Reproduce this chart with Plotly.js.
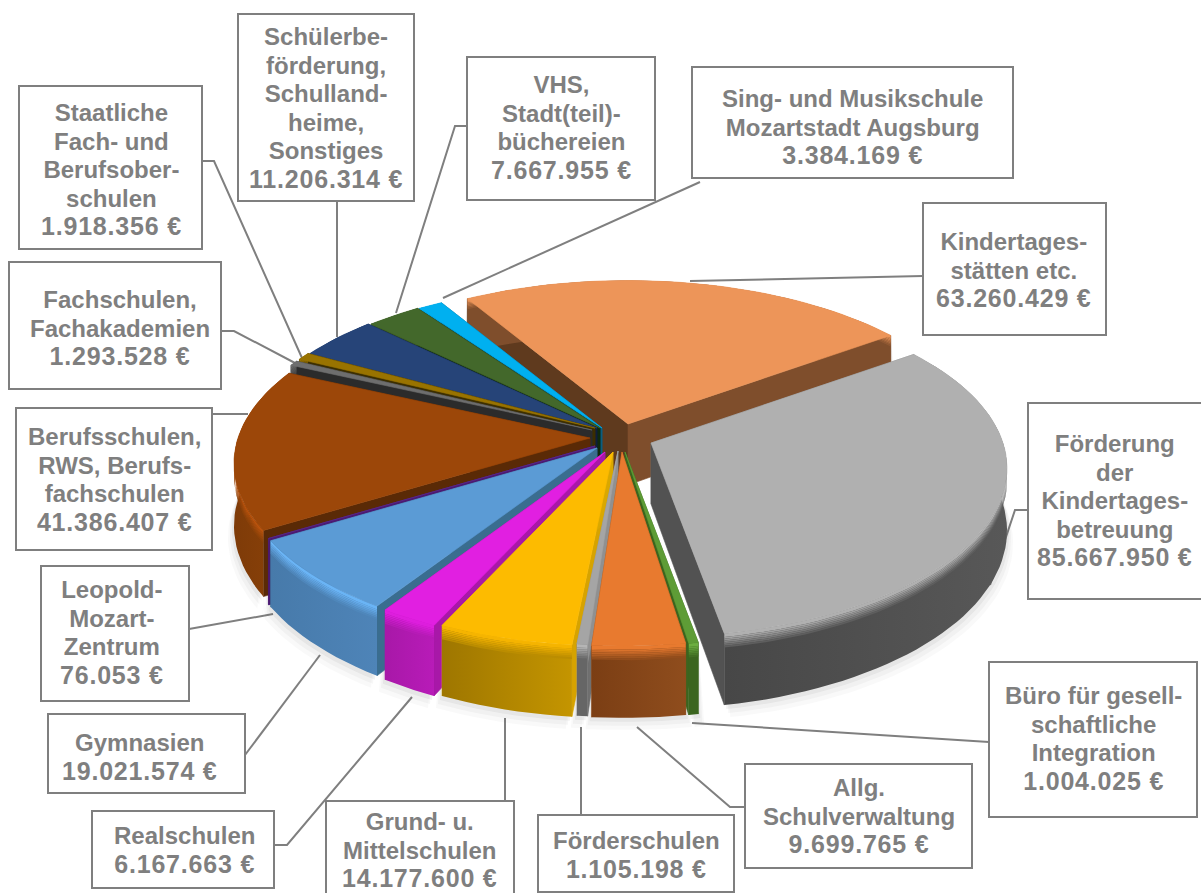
<!DOCTYPE html>
<html><head><meta charset="utf-8">
<script src="https://cdn.plot.ly/plotly-3.0.1.min.js"></script>
<style>html,body{margin:0;padding:0;background:#fff;overflow:hidden}</style>
</head><body><div id="chart" style="width:1201px;height:893px"></div>
<script>
// ---- data ----
const categories = [
  "Kindertages-<br>stätten etc.",
  "Förderung<br>der<br>Kindertages-<br>betreuung",
  "Büro für gesell-<br>schaftliche<br>Integration",
  "Allg.<br>Schulverwaltung",
  "Förderschulen",
  "Grund- u.<br>Mittelschulen",
  "Realschulen",
  "Gymnasien",
  "Leopold-<br>Mozart-<br>Zentrum",
  "Berufsschulen,<br>RWS, Berufs-<br>fachschulen",
  "Fachschulen,<br>Fachakademien",
  "Staatliche<br>Fach- und<br>Berufsober-<br>schulen",
  "Schülerbe-<br>förderung,<br>Schulland-<br>heime,<br>Sonstiges",
  "VHS,<br>Stadt(teil)-<br>büchereien",
  "Sing- und Musikschule<br>Mozartstadt Augsburg"
];
const values = [63260429,85667950,1004025,9699765,1105198,14177600,6167663,19021574,76053,41386407,1293528,1918356,11206314,7667955,3384169];

// ---- colours ----
const topColors  = ["#ED9559","#B0B0B0","#5E9C36","#E87A2F","#A5A5A5","#FDBB00","#E11FE1","#5B9BD5","#5A2A8A","#9C4709","#6E6E6E","#997300","#264478","#43682B","#00B0F0"];
const rimColors  = ["#ED9559","#B0B0B0","#6CAE40","#E87A2F","#B5B5B5","#F5B400","#DD1EDD","#6AB4F5","#5A2A8A","#B8530E","#6E6E6E","#997300","#264478","#43682B","#00B0F0"];
const wallLeft   = ["#7F4E2C","#585858","#3B651F","#8F4D1D","#666666","#C49500","#B81BB8","#4E84B8","#4B1A73","#8C4209","#444444","#6A5000","#1A2F52","#2E481E","#0A7AA5"];
const wallRight  = ["#7F4E2C","#474747","#3B651F","#7B3E14","#666666","#9E7600","#A818A8","#477AAA","#4B1A73","#7E3B08","#444444","#6A5000","#1A2F52","#2E481E","#0A7AA5"];
const sideStart  = ["#5F3A1E","#7F7F7F","#3B651F","#8F4D1D","#707070","#D6A300","#A818A8","#3A6D8F","#4B1A73","#5A2A06","#2B2B2B","#3C2E00","#0F1F3D","#0F2A0D","#0B5F80"];
const sideEnd    = ["#7F4E2C","#525252","#3B651F","#8F4D1D","#909090","#D9A800","#A818A8","#3A6D8F","#4B1A73","#5A2A06","#2B2B2B","#3C2E00","#0F1F3D","#0F2A0D","#0B5F80"];

// ---- screen layout (not data) ----
const cx=605, cy=436, R=352, Ry=165, K=0.15, H=61, START=-31;
const sliceShift = [[23,-12],[46,7],[20,16],[17,16],[13,15],[8,16],[0,16],[-8,12],[-10,10],[-15,2],[-13,-6],[-10,-8],[-8,-8],[-5,-8],[-3,-8]];
const drawOrder  = [0,14,13,12,11,10,9,8,7,1,2,6,5,4,3];
const boxes = [[923,203,1106,335],[1028,403,1203,599],[989,662,1197,817],[745,764,972,868],[538,815,734,892],[326,801,514,900],[92,811,274,888],[48,714,245,793],[41,566,189,701],[16,408,212,550],[9,262,221,389],[19,86,202,249],[238,14,414,201],[467,57,655,200],[692,67,1013,178]];
const textX = [1014,1115,1093,859,636,420,184,140,112,114,120,111,326,561,852];
const textY = [241,443,696,787,841,821,836,743,590,437,299,112,36,85,98];
const linePitch=28.6, baseSize=22, nameSize=24, amountSize=25;
const leaders = [
 [[923,276],[690,281]],
 [[1028,510],[1015,510],[990,585]],
 [[989,742],[692,723]],
 [[745,807],[730,807],[637,727]],
 [[581,815],[581,727]],
 [[505,801],[505,718]],
 [[274,845],[287,845],[412,697]],
 [[245,755],[320,655]],
 [[189,629],[273,614]],
 [[212,414],[248,414]],
 [[221,331],[234,331],[295,363]],
 [[202,161],[214,161],[302,358]],
 [[337,201],[337,337]],
 [[467,126],[455,126],[396,313]],
 [[700,182],[443,298]]
];

const total = values.reduce((a,b)=>a+b,0);
function pt(deg){
  const t=deg*Math.PI/180, X=Math.sin(t), Y=-Math.cos(t), s=1/(1-K*Y);
  return {x:cx+R*X*s, y:cy+Ry*Y*s, s};
}
function blend(a,b,f){
  const p=c=>[1,3,5].map(i=>parseInt(c.substr(i,2),16));
  const A=p(a),B=p(b);
  return "#"+A.map((v,i)=>Math.round(v+(B[i]-v)*f).toString(16).padStart(2,"0")).join("");
}
function poly(xs,ys,color,extra){
  return Object.assign({type:"scatter",mode:"lines",x:xs.concat(xs[0]),y:ys.concat(ys[0]),fill:"toself",fillcolor:color,
    line:{color:color,width:0.6},hoverinfo:"skip",showlegend:false},extra||{});
}

const traces=[];
leaders.forEach(l=>traces.push({type:"scatter",mode:"lines",x:l.map(p=>p[0]),y:l.map(p=>p[1]),
  line:{color:"#7F7F7F",width:2},hoverinfo:"skip",showlegend:false}));

const angles=[]; let acc=START;
values.forEach(v=>{const a=acc; acc+=v/total*360; angles.push([a,acc]);});

function arcPts(a0,a1){
  const n=Math.max(2,Math.ceil((a1-a0)/2)), out=[];
  for(let i=0;i<=n;i++) out.push(pt(a0+(a1-a0)*i/n));
  return out;
}
// soft shadow below the walls
[[12,0.035],[8,0.05],[4,0.07]].forEach(([g,o])=>{
  drawOrder.forEach(i=>{
    const [a0,a1]=angles[i],[dx,dy]=sliceShift[i],arc=arcPts(a0,a1);
    traces.push(poly(
      arc.map(p=>p.x+dx).concat(arc.slice().reverse().map(p=>p.x+dx+(p.x>cx?g*0.5:-g*0.5))),
      arc.map(p=>p.y+dy).concat(arc.slice().reverse().map(p=>p.y+dy+H*p.s+g)),
      "rgba(90,90,90,"+o+")",{line:{width:0}}));
  });
});

drawOrder.forEach(i=>{
  const [a0,a1]=angles[i],[dx,dy]=sliceShift[i],arc=arcPts(a0,a1);
  const ax=cx+dx, ay=cy+dy;
  const xs=arc.map(p=>p.x+dx), ys=arc.map(p=>p.y+dy);
  const e0=arc[0], e1=arc[arc.length-1];
  traces.push(poly([ax,e0.x+dx,e0.x+dx,ax],[ay,e0.y+dy,e0.y+dy+H*e0.s,ay+H],sideStart[i]));
  traces.push(poly([ax,e1.x+dx,e1.x+dx,ax],[ay,e1.y+dy,e1.y+dy+H*e1.s,ay+H],sideEnd[i]));
  const rev=arc.slice().reverse();
  traces.push(poly(xs.concat(rev.map(p=>p.x+dx)),ys.concat(rev.map(p=>p.y+dy+H*p.s)),wallLeft[i],
    {fillgradient:{type:"horizontal",colorscale:[[0,wallRight[i]],[1,wallLeft[i]]]},line:{width:0}}));
  const wallMid=blend(wallLeft[i],wallRight[i],0.5);
  const bandDefs=[[0,3,rimColors[i]]];
  for(let k=0;k<6;k++) bandDefs.push([3+k*1.5,3+(k+1)*1.5,blend(rimColors[i],wallMid,(k+1)/7)]);
  bandDefs.forEach(([d0,d1,c])=>{
    traces.push(poly(xs.concat(rev.map(p=>p.x+dx)),
      arc.map(p=>p.y+dy+d0*p.s).concat(rev.map(p=>p.y+dy+d1*p.s)),c,{line:{width:0}}));
  });
  traces.push(poly([ax].concat(xs),[ay].concat(ys),topColors[i]));
});

const de=n=>String(n).replace(/\B(?=(\d{3})+$)/g,".")+" €";
const shapes=boxes.map(b=>({type:"rect",xref:"x",yref:"y",x0:b[0],y0:b[1],x1:b[2],y1:b[3],
  line:{color:"#7F7F7F",width:2},fillcolor:"#FFFFFF",layer:"above"}));
const annotations=categories.map((c,i)=>{
  const names=c.split("<br>");
  const text=names.map(n=>'<span style="font-size:'+nameSize+'px">'+n+'</span>').join("<br>")
    +'<br><span style="font-size:'+amountSize+'px;letter-spacing:0.8px">'+de(values[i])+'</span>';
  return {x:textX[i],y:textY[i]+names.length/2*linePitch,xref:"x",yref:"y",text,showarrow:false,align:"center",
    xanchor:"center",yanchor:"middle",
    font:{family:"'Liberation Sans',Arial,sans-serif",size:baseSize,color:"#7F7F7F",weight:700}};
});

Plotly.newPlot("chart",traces,{
  width:1201,height:893,margin:{l:0,r:0,t:0,b:0},paper_bgcolor:"#fff",plot_bgcolor:"#fff",showlegend:false,
  xaxis:{range:[0,1201],visible:false,fixedrange:true},
  yaxis:{range:[893,0],visible:false,fixedrange:true},
  shapes,annotations,hovermode:false
},{displayModeBar:false,staticPlot:true});
</script></body></html>
